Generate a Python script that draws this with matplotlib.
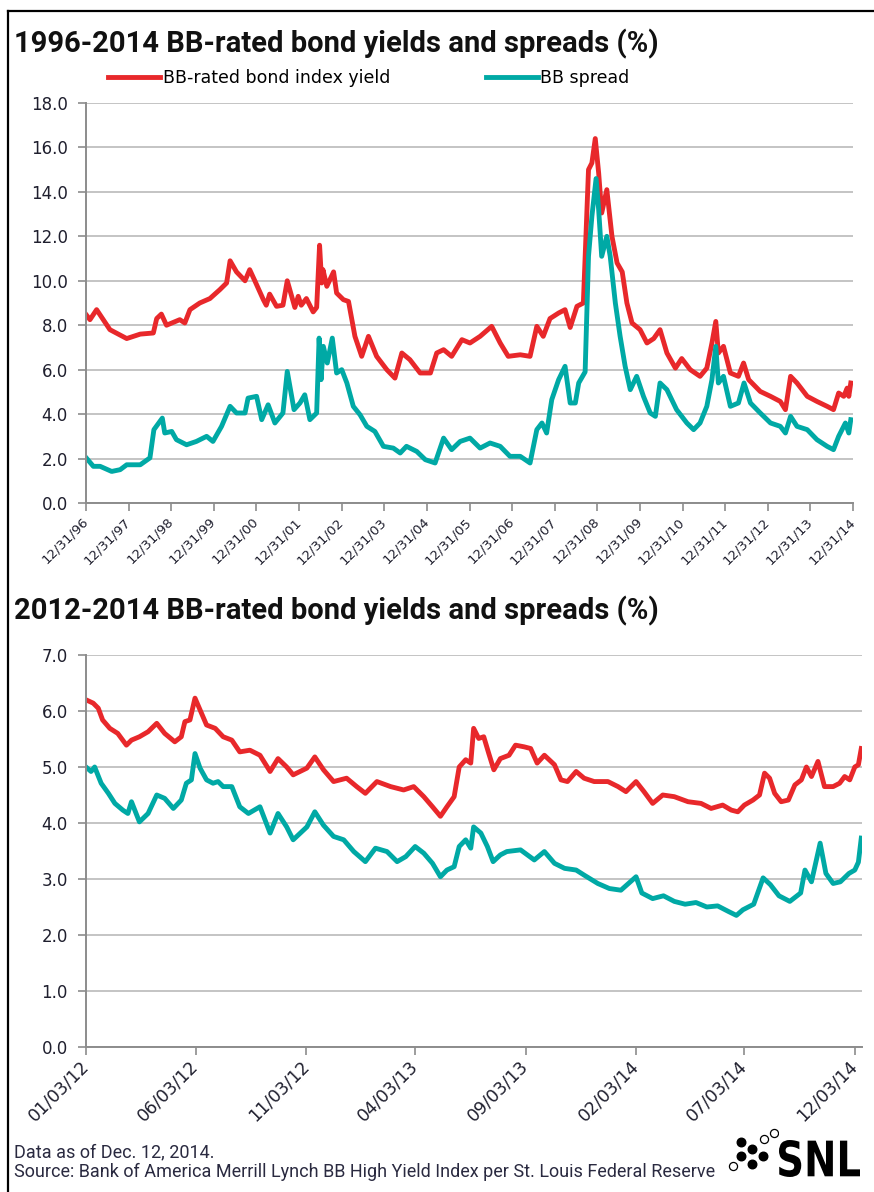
import matplotlib
matplotlib.use('Agg')
import matplotlib.pyplot as plt
from matplotlib.lines import Line2D
from matplotlib.textpath import TextPath
from matplotlib.patches import PathPatch
from matplotlib.font_manager import FontProperties
from matplotlib.transforms import Affine2D
import pandas as pd

# colours
RED = '#E8282B'
TEAL = '#00A9A5'
GRID = '#C4C4C4'
AXIS = '#8C8C8C'
TXT = '#1F1F2E'
HEAD = ['Roboto', 'DejaVu Sans']

# ---- 1996-2014 panel ----
long_yield_dates = [
    '1997-01-02', '1997-02-03', '1997-04-01', '1997-07-24', '1997-12-15', '1998-04-10',
    '1998-07-31', '1998-08-29', '1998-10-08', '1998-11-21', '1999-03-15', '1999-04-27',
    '1999-06-10', '1999-09-02', '1999-11-28', '2000-02-21', '2000-04-19', '2000-05-19',
    '2000-07-13', '2000-09-24', '2000-11-03', '2000-12-17', '2001-02-28', '2001-03-25',
    '2001-04-23', '2001-06-21', '2001-08-15', '2001-09-21', '2001-11-25', '2001-12-24',
    '2002-01-19', '2002-03-04', '2002-05-01', '2002-05-31', '2002-06-25', '2002-07-13',
    '2002-07-24', '2002-08-26', '2002-10-23', '2002-11-18', '2003-01-15', '2003-02-28',
    '2003-04-24', '2003-06-21', '2003-08-18', '2003-10-27', '2004-01-22', '2004-04-01',
    '2004-05-30', '2004-08-07', '2004-11-03', '2005-01-30', '2005-03-25', '2005-05-23',
    '2005-07-31', '2005-10-27', '2006-01-04', '2006-04-01', '2006-07-09', '2006-09-20',
    '2006-11-28', '2007-03-11', '2007-06-03', '2007-07-31', '2007-09-24', '2007-11-21',
    '2008-02-03', '2008-03-29', '2008-05-12', '2008-07-09', '2008-09-02', '2008-10-16',
    '2008-11-14', '2008-12-13', '2009-01-11', '2009-02-06', '2009-03-22', '2009-05-05',
    '2009-06-18', '2009-08-01', '2009-09-10', '2009-10-24', '2010-01-01', '2010-03-01',
    '2010-04-28', '2010-06-21', '2010-08-19', '2010-10-31', '2010-12-24', '2011-03-07',
    '2011-05-30', '2011-07-27', '2011-09-09', '2011-10-12', '2011-11-03', '2011-12-17',
    '2012-02-14', '2012-04-23', '2012-06-06', '2012-07-20', '2012-10-27', '2013-01-23',
    '2013-04-17', '2013-05-31', '2013-07-14', '2013-09-07', '2013-12-04', '2014-02-25',
    '2014-05-23', '2014-07-17', '2014-08-30', '2014-10-13', '2014-11-11', '2014-11-25',
    '2014-12-12']
long_yield = [
    8.47, 8.25, 8.7, 7.8, 7.4, 7.6,
    7.65, 8.3, 8.5, 8.0, 8.25, 8.1,
    8.7, 9.0, 9.2, 9.6, 9.9, 10.9,
    10.4, 10.0, 10.5, 10.0, 9.15, 8.9,
    9.4, 8.85, 8.9, 10.0, 8.8, 9.3,
    8.9, 9.2, 8.6, 8.8, 11.6, 9.9,
    10.5, 9.75, 10.4, 9.45, 9.15, 9.07,
    7.5, 6.6, 7.5, 6.6, 6.0, 5.62,
    6.75, 6.45, 5.85, 5.85, 6.75, 6.9,
    6.6, 7.35, 7.2, 7.5, 7.95, 7.2,
    6.6, 6.67, 6.6, 7.95, 7.5, 8.3,
    8.55, 8.7, 7.9, 8.85, 9.0, 15.0,
    15.3, 16.4, 14.85, 13.05, 14.1, 12.0,
    10.8, 10.4, 9.0, 8.1, 7.8, 7.2,
    7.4, 7.8, 6.75, 6.07, 6.5, 6.0,
    5.7, 6.07, 7.2, 8.17, 6.75, 7.05,
    5.85, 5.7, 6.3, 5.55, 5.02, 4.8,
    4.57, 4.2, 5.7, 5.4, 4.8, 4.57,
    4.35, 4.2, 4.95, 4.8, 5.17, 4.8,
    5.4]

long_spread_dates = [
    '1997-01-02', '1997-03-04', '1997-05-01', '1997-08-08', '1997-10-20', '1997-12-15',
    '1998-04-10', '1998-07-02', '1998-08-05', '1998-10-16', '1998-11-06', '1999-01-05',
    '1999-02-14', '1999-05-12', '1999-08-04', '1999-10-31', '1999-12-24', '2000-03-07',
    '2000-05-19', '2000-07-13', '2000-09-24', '2000-10-20', '2001-01-01', '2001-02-14',
    '2001-04-10', '2001-06-07', '2001-08-15', '2001-09-21', '2001-11-18', '2002-01-08',
    '2002-02-18', '2002-04-03', '2002-05-31', '2002-06-21', '2002-07-08', '2002-07-27',
    '2002-08-30', '2002-10-12', '2002-11-18', '2003-01-01', '2003-02-14', '2003-04-10',
    '2003-06-07', '2003-08-04', '2003-10-12', '2003-12-24', '2004-03-18', '2004-05-16',
    '2004-07-09', '2004-10-05', '2004-12-17', '2005-03-11', '2005-05-23', '2005-07-31',
    '2005-10-12', '2006-01-04', '2006-04-01', '2006-06-25', '2006-09-20', '2006-12-13',
    '2007-03-11', '2007-06-03', '2007-07-31', '2007-09-13', '2007-10-23', '2007-12-06',
    '2008-02-03', '2008-03-29', '2008-05-12', '2008-06-25', '2008-07-24', '2008-09-17',
    '2008-10-16', '2008-11-14', '2008-12-20', '2009-01-11', '2009-02-06', '2009-03-22',
    '2009-04-20', '2009-06-03', '2009-07-14', '2009-08-26', '2009-10-09', '2009-12-03',
    '2010-01-30', '2010-03-29', '2010-05-12', '2010-06-21', '2010-08-19', '2010-11-10',
    '2011-02-06', '2011-04-05', '2011-05-30', '2011-07-27', '2011-09-09', '2011-10-12',
    '2011-11-03', '2011-12-17', '2012-02-14', '2012-04-23', '2012-06-10', '2012-08-04',
    '2012-10-27', '2013-01-23', '2013-04-17', '2013-05-31', '2013-07-14', '2013-09-07',
    '2013-12-04', '2014-02-25', '2014-05-23', '2014-07-17', '2014-08-30', '2014-10-27',
    '2014-11-25', '2014-12-12']
long_spread = [
    2.03, 1.65, 1.65, 1.42, 1.5, 1.72,
    1.72, 2.03, 3.3, 3.82, 3.15, 3.22,
    2.85, 2.62, 2.77, 3.0, 2.77, 3.45,
    4.35, 4.05, 4.05, 4.72, 4.8, 3.75,
    4.42, 3.6, 4.05, 5.92, 4.2, 4.5,
    4.87, 3.75, 4.05, 7.42, 5.55, 7.05,
    6.3, 7.42, 5.85, 6.0, 5.4, 4.35,
    3.97, 3.45, 3.22, 2.55, 2.47, 2.25,
    2.55, 2.32, 1.95, 1.8, 2.92, 2.4,
    2.77, 2.92, 2.47, 2.7, 2.55, 2.1,
    2.1, 1.8, 3.3, 3.6, 3.15, 4.65,
    5.55, 6.15, 4.5, 4.5, 5.4, 5.9,
    11.1, 12.9, 14.6, 13.2, 11.1, 12.0,
    11.1, 9.0, 7.5, 6.15, 5.1, 5.7,
    4.8, 4.05, 3.9, 5.4, 5.1, 4.2,
    3.6, 3.3, 3.6, 4.35, 5.55, 7.05,
    5.4, 5.7, 4.35, 4.5, 5.4, 4.5,
    4.05, 3.6, 3.45, 3.15, 3.9, 3.45,
    3.3, 2.85, 2.55, 2.4, 3.0, 3.6,
    3.15, 3.75]

long_ticks = ['12/31/96', '12/31/97', '12/31/98', '12/31/99', '12/31/00', '12/31/01',
              '12/31/02', '12/31/03', '12/31/04', '12/31/05', '12/31/06', '12/31/07',
              '12/31/08', '12/31/09', '12/31/10', '12/31/11', '12/31/12', '12/31/13',
              '12/31/14']
long_yticks = [0, 2, 4, 6, 8, 10, 12, 14, 16, 18]

# ---- 2012-2014 panel ----
short_yield_dates = [
    '2012-01-03', '2012-01-13', '2012-01-20', '2012-01-26', '2012-02-05', '2012-02-16',
    '2012-02-28', '2012-03-06', '2012-03-17', '2012-03-29', '2012-04-10', '2012-04-21',
    '2012-05-05', '2012-05-14', '2012-05-19', '2012-05-26', '2012-06-02', '2012-06-09',
    '2012-06-18', '2012-06-30', '2012-07-11', '2012-07-23', '2012-08-03', '2012-08-17',
    '2012-08-31', '2012-09-14', '2012-09-25', '2012-10-07', '2012-10-16', '2012-11-04',
    '2012-11-15', '2012-11-27', '2012-12-11', '2012-12-29', '2013-01-12', '2013-01-24',
    '2013-02-09', '2013-02-28', '2013-03-18', '2013-04-01', '2013-04-15', '2013-04-27',
    '2013-05-08', '2013-05-17', '2013-05-27', '2013-06-03', '2013-06-12', '2013-06-19',
    '2013-06-23', '2013-06-30', '2013-07-07', '2013-07-14', '2013-07-21', '2013-07-30',
    '2013-08-11', '2013-08-20', '2013-09-01', '2013-09-10', '2013-09-19', '2013-09-29',
    '2013-10-13', '2013-10-22', '2013-10-31', '2013-11-12', '2013-11-23', '2013-12-07',
    '2013-12-26', '2014-01-09', '2014-01-20', '2014-02-03', '2014-02-14', '2014-02-26',
    '2014-03-12', '2014-03-28', '2014-04-16', '2014-05-04', '2014-05-18', '2014-06-03',
    '2014-06-15', '2014-06-24', '2014-07-03', '2014-07-15', '2014-07-24', '2014-07-31',
    '2014-08-07', '2014-08-14', '2014-08-23', '2014-09-02', '2014-09-11', '2014-09-20',
    '2014-09-27', '2014-10-04', '2014-10-13', '2014-10-22', '2014-11-03', '2014-11-12',
    '2014-11-19', '2014-11-26', '2014-12-03', '2014-12-08', '2014-12-12']
short_yield = [
    6.2, 6.14, 6.05, 5.84, 5.69, 5.6,
    5.39, 5.48, 5.54, 5.63, 5.78, 5.6,
    5.45, 5.54, 5.81, 5.84, 6.23, 6.02,
    5.75, 5.69, 5.54, 5.48, 5.27, 5.3,
    5.21, 4.92, 5.15, 5.0, 4.86, 4.98,
    5.18, 4.95, 4.74, 4.8, 4.65, 4.53,
    4.74, 4.65, 4.59, 4.65, 4.47, 4.29,
    4.12, 4.29, 4.47, 5.0, 5.13, 5.07,
    5.69, 5.51, 5.54, 5.24, 4.95, 5.15,
    5.21, 5.39, 5.36, 5.33, 5.07, 5.21,
    5.04, 4.77, 4.74, 4.92, 4.8, 4.74,
    4.74, 4.65, 4.56, 4.74, 4.56, 4.35,
    4.5, 4.47, 4.38, 4.35, 4.26, 4.32,
    4.23, 4.2, 4.32, 4.41, 4.5, 4.89,
    4.8, 4.53, 4.38, 4.41, 4.68, 4.77,
    5.0, 4.83, 5.1, 4.65, 4.65, 4.71,
    4.83, 4.77, 5.0, 5.04, 5.33]

short_spread_dates = [
    '2012-01-03', '2012-01-10', '2012-01-15', '2012-01-24', '2012-02-03', '2012-02-12',
    '2012-02-23', '2012-03-01', '2012-03-06', '2012-03-17', '2012-03-29', '2012-04-10',
    '2012-04-21', '2012-05-03', '2012-05-14', '2012-05-21', '2012-05-28', '2012-06-02',
    '2012-06-09', '2012-06-18', '2012-06-27', '2012-07-04', '2012-07-11', '2012-07-23',
    '2012-08-03', '2012-08-15', '2012-08-31', '2012-09-14', '2012-09-25', '2012-10-07',
    '2012-10-16', '2012-11-04', '2012-11-15', '2012-11-27', '2012-12-11', '2012-12-25',
    '2013-01-08', '2013-01-24', '2013-02-07', '2013-02-23', '2013-03-09', '2013-03-21',
    '2013-04-03', '2013-04-15', '2013-04-27', '2013-05-08', '2013-05-17', '2013-05-27',
    '2013-06-03', '2013-06-12', '2013-06-19', '2013-06-23', '2013-07-03', '2013-07-12',
    '2013-07-20', '2013-07-30', '2013-08-08', '2013-08-27', '2013-09-15', '2013-09-29',
    '2013-10-13', '2013-10-27', '2013-11-12', '2013-11-23', '2013-12-12', '2013-12-28',
    '2014-01-13', '2014-02-03', '2014-02-11', '2014-02-26', '2014-03-13', '2014-03-28',
    '2014-04-12', '2014-04-27', '2014-05-12', '2014-05-27', '2014-06-11', '2014-06-22',
    '2014-07-01', '2014-07-16', '2014-07-29', '2014-08-08', '2014-08-20', '2014-09-04',
    '2014-09-19', '2014-09-25', '2014-10-04', '2014-10-16', '2014-10-24', '2014-11-03',
    '2014-11-13', '2014-11-25', '2014-12-03', '2014-12-08', '2014-12-12']
short_spread = [
    5.0, 4.92, 5.0, 4.71, 4.53, 4.35,
    4.23, 4.17, 4.38, 4.02, 4.17, 4.5,
    4.44, 4.26, 4.41, 4.71, 4.77, 5.24,
    4.98, 4.77, 4.71, 4.74, 4.65, 4.65,
    4.29, 4.17, 4.29, 3.82, 4.17, 3.93,
    3.7, 3.93, 4.2, 3.96, 3.76, 3.7,
    3.49, 3.31, 3.55, 3.49, 3.31, 3.4,
    3.58, 3.46, 3.28, 3.04, 3.16, 3.22,
    3.58, 3.7, 3.55, 3.93, 3.82, 3.58,
    3.31, 3.43, 3.49, 3.52, 3.34, 3.49,
    3.28, 3.19, 3.16, 3.07, 2.92, 2.83,
    2.8, 3.04, 2.75, 2.65, 2.7, 2.6,
    2.55, 2.58, 2.5, 2.52, 2.42, 2.35,
    2.45, 2.55, 3.02, 2.9, 2.7, 2.6,
    2.75, 3.16, 2.95, 3.64, 3.1, 2.92,
    2.95, 3.1, 3.16, 3.3, 3.73]

short_ticks = ['01/03/12', '06/03/12', '11/03/12', '04/03/13', '09/03/13',
               '02/03/14', '07/03/14', '12/03/14']
short_yticks = [0, 1, 2, 3, 4, 5, 6, 7]

titles = ['1996-2014 BB-rated bond yields and spreads (%)',
          '2012-2014 BB-rated bond yields and spreads (%)']
legend_labels = ['BB-rated bond index yield', 'BB spread']
notes = ['Data as of Dec. 12, 2014.',
         'Source: Bank of America Merrill Lynch BB High Yield Index per St. Louis Federal Reserve']

plt.rcParams['font.family'] = ['DejaVu Sans']

W, H = 874, 1192
fig = plt.figure(figsize=(W / 100, H / 100), dpi=100)
fig.patch.set_facecolor('white')


def style_axis(ax, yticks, ticks, xlim, xfont):
    ax.set_ylim(yticks[0], yticks[-1])
    ax.set_yticks(yticks)
    ax.set_yticklabels(['%.1f' % v for v in yticks])
    tick_dates = pd.to_datetime(ticks, format='%m/%d/%y')
    ax.set_xticks(tick_dates)
    ax.set_xticklabels(ticks, rotation=45, ha='right', va='center',
                       rotation_mode='anchor', fontsize=xfont, color=TXT)
    ax.set_xlim(pd.Timestamp(xlim[0]), pd.Timestamp(xlim[1]))
    ax.grid(axis='y', color=GRID, linewidth=1.4)
    ax.set_axisbelow(True)
    for s in ['top', 'right']:
        ax.spines[s].set_visible(False)
    for s in ['left', 'bottom']:
        ax.spines[s].set_color(AXIS)
        ax.spines[s].set_linewidth(1.4)
    ax.tick_params(axis='y', length=6, width=1.2, color=AXIS, labelsize=12,
                   labelcolor=TXT, pad=7)
    ax.tick_params(axis='x', length=6, width=1.2, color=AXIS, pad=6)


# top panel
ax1 = fig.add_axes([86 / W, 1 - 503 / H, 767 / W, 400 / H])
ax1.plot(pd.to_datetime(long_yield_dates), long_yield, color=RED, lw=3.5,
         solid_joinstyle='round', label=legend_labels[0])
ax1.plot(pd.to_datetime(long_spread_dates), long_spread, color=TEAL, lw=3.5,
         solid_joinstyle='round', label=legend_labels[1])
style_axis(ax1, long_yticks, long_ticks, ('1996-12-31', '2014-12-31'), 9.5)

# bottom panel
ax2 = fig.add_axes([86 / W, 1 - 1047 / H, 776 / W, 392 / H])
ax2.plot(pd.to_datetime(short_yield_dates), short_yield, color=RED, lw=3.5,
         solid_joinstyle='round')
ax2.plot(pd.to_datetime(short_spread_dates), short_spread, color=TEAL, lw=3.5,
         solid_joinstyle='round')
style_axis(ax2, short_yticks, short_ticks, ('2012-01-03', '2014-12-13'), 12.5)

# legend
fig.legend(handles=ax1.get_lines(), labels=legend_labels, loc='center left',
           bbox_to_anchor=(108 / W, 1 - 78 / H), ncol=2, frameon=False,
           handlelength=3.0, handletextpad=0.15, columnspacing=5.5,
           borderpad=0, borderaxespad=0,
           prop={'family': 'DejaVu Sans', 'size': 12.5})

# titles
for title, yc in zip(titles, [44, 611]):
    fig.text(14 / W, 1 - yc / H, title, fontsize=21, fontweight='bold',
             family=HEAD, va='center', color='#111111')

# notes
fig.text(14 / W, 1 - 1152 / H, notes[0], fontsize=13, family=HEAD,
         va='center', color='#2A2A40')
fig.text(14 / W, 1 - 1172 / H, notes[1], fontsize=13, family=HEAD,
         va='center', color='#2A2A40')

# SNL logo: letters stretched to the box of the original mark
tp = TextPath((0, 0), 'SNL', size=1, prop=FontProperties(family='DejaVu Sans', weight='bold'))
ext = tp.get_extents()
sx = (81 / W) / ext.width
sy = (37 / H) / ext.height
tr = Affine2D().translate(-ext.x0, -ext.y0).scale(sx, sy).translate(779 / W, 1 - 1177 / H)
fig.add_artist(PathPatch(tp, transform=tr + fig.transFigure, color='black', lw=0))
logo = fig.add_axes([728 / W, 1 - 1176 / H, 50 / W, 50 / H])
logo.set_xlim(0, 50)
logo.set_ylim(50, 0)
logo.axis('off')
logo.scatter([13, 24, 13, 24, 35], [16, 23, 30, 38, 30], s=38, color='black')
logo.scatter([36, 46, 5], [13, 7, 40], s=34, facecolor='white',
             edgecolor='black', linewidth=0.9)

# frame lines on left and top
fig.add_artist(Line2D([8 / W, 8 / W], [0, 1 - 11 / H], transform=fig.transFigure,
                      color='black', lw=1.6))
fig.add_artist(Line2D([8 / W, 1], [1 - 11 / H, 1 - 11 / H], transform=fig.transFigure,
                      color='black', lw=1.6))

fig.savefig('out.png', dpi=100)
